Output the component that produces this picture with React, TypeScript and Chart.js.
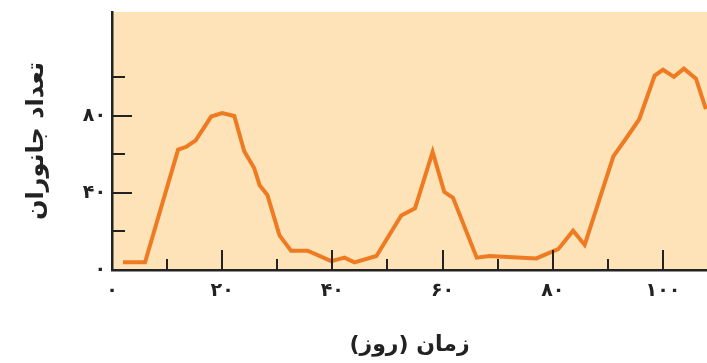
import React, { useEffect, useRef } from "react";
import { Chart, registerables } from "chart.js";

Chart.register(...registerables);

// ---- data ----
const days = [2, 6, 12, 13.5, 15.2, 18, 20, 22.2, 24, 25.8, 26.8, 28.2, 30.4, 32.5, 35.5, 39.8, 42.2, 44, 48, 52.5, 55, 58.2, 60.3, 61.9, 66.2, 68.5, 77, 81, 83.7, 85.8, 91, 93.4, 95.7, 98.5, 100, 102, 103.8, 106, 107.8];
const animals = [4, 4, 62.5, 64, 67.3, 79.7, 81.5, 80, 61.7, 53, 44, 39, 18, 10, 10, 4.6, 6.4, 4, 7.3, 28.3, 32, 61.3, 40.6, 37.5, 6.4, 7.3, 6, 10.8, 20.4, 13, 59, 68.7, 78.3, 101, 104, 100.3, 104.6, 99.4, 83.6];

const xLabelValues = [0, 20, 40, 60, 80, 100];
const xTickValues = [10, 20, 30, 40, 50, 60, 70, 80, 90, 100];
const yLabelValues = [0, 40, 80];
const yTickValues = [20, 40, 60, 80, 100];

const xTitle = "زمان (روز)";
const yTitle = "تعداد جانوران";

const persianDigits = "۰۱۲۳۴۵۶۷۸۹";
const toPersian = (v: number) => String(v).replace(/\d/g, (d) => persianDigits[Number(d)]);

const FONT = "'DejaVu Sans', sans-serif";
const INK = "#222";

const innerTicks = {
  id: "innerTicks",
  beforeDraw(chart: any) {
    const { ctx, chartArea } = chart;
    ctx.save();
    ctx.fillStyle = "#FEE3B8";
    ctx.fillRect(chartArea.left, chartArea.top, chartArea.right - chartArea.left, chartArea.bottom - chartArea.top);
    ctx.restore();
  },
  afterDraw(chart: any) {
    const { ctx, chartArea, scales } = chart;
    ctx.save();
    ctx.strokeStyle = INK;
    ctx.lineWidth = 2;
    ctx.beginPath();
    xTickValues.forEach((v) => {
      const px = Math.round(scales.x.getPixelForValue(v));
      const len = v % 20 === 0 ? 20 : 11;
      ctx.moveTo(px, chartArea.bottom);
      ctx.lineTo(px, chartArea.bottom - len);
    });
    yTickValues.forEach((v) => {
      const py = Math.round(scales.y.getPixelForValue(v));
      const len = v % 40 === 0 ? 20 : 13;
      ctx.moveTo(chartArea.left, py);
      ctx.lineTo(chartArea.left + len, py);
    });
    ctx.stroke();
    ctx.restore();
  },
};

export default function App() {
  const ref = useRef<HTMLCanvasElement>(null);
  useEffect(() => {
    if (!ref.current) return;
    const chart = new Chart(ref.current, {
      type: "line",
      data: {
        datasets: [
          {
            data: days.map((d, i) => ({ x: d, y: animals[i] })),
            borderColor: "#EE7A22",
            borderWidth: 4,
            pointRadius: 0,
            tension: 0,
            fill: false,
          },
        ],
      },
      options: {
        animation: false,
        responsive: false,
        devicePixelRatio: 1,
        layout: { padding: { top: 12, right: 0, left: 0, bottom: 0 } },
        plugins: { legend: { display: false }, tooltip: { enabled: false } },
        scales: {
          x: {
            type: "linear",
            min: 0,
            max: 108,
            afterBuildTicks: (s: any) => {
              s.ticks = xLabelValues.map((v) => ({ value: v }));
            },
            afterFit: (s: any) => {
              s.height = 93;
              s.paddingLeft = 0;
              s.paddingRight = 0;
            },
            grid: { display: true, drawOnChartArea: false, drawTicks: false },
            border: { display: true, color: INK, width: 2.5 },
            ticks: {
              autoSkip: false,
              maxRotation: 0,
              padding: 10,
              color: INK,
              font: { family: FONT, size: 19, weight: "bold" },
              callback: (v: any) => toPersian(Number(v)),
            },
            title: {
              display: true,
              text: xTitle,
              color: INK,
              font: { family: FONT, size: 22, weight: "bold" },
              padding: { top: 0, bottom: 5 },
            },
          },
          y: {
            type: "linear",
            min: 0,
            max: 134,
            afterBuildTicks: (s: any) => {
              s.ticks = yLabelValues.map((v) => ({ value: v }));
            },
            afterFit: (s: any) => {
              s.width = 112;
              s.paddingTop = 0;
              s.paddingBottom = 0;
            },
            grid: { display: true, drawOnChartArea: false, drawTicks: false },
            border: { display: true, color: INK, width: 2.5 },
            ticks: {
              autoSkip: false,
              padding: 6,
              color: INK,
              font: { family: FONT, size: 19, weight: "bold" },
              callback: (v: any) => toPersian(Number(v)),
            },
            title: {
              display: true,
              text: yTitle,
              color: INK,
              font: { family: FONT, size: 24, weight: "bold" },
              padding: { top: 22, bottom: 0 },
            },
          },
        },
      },
      plugins: [innerTicks],
    });
    return () => chart.destroy();
  }, []);
  return (
    <canvas
      ref={ref}
      width={707}
      height={363}
      dir="rtl"
      style={{ position: "absolute", left: 0, top: 0, width: 707, height: 363, direction: "rtl" }}
    />
  );
}
